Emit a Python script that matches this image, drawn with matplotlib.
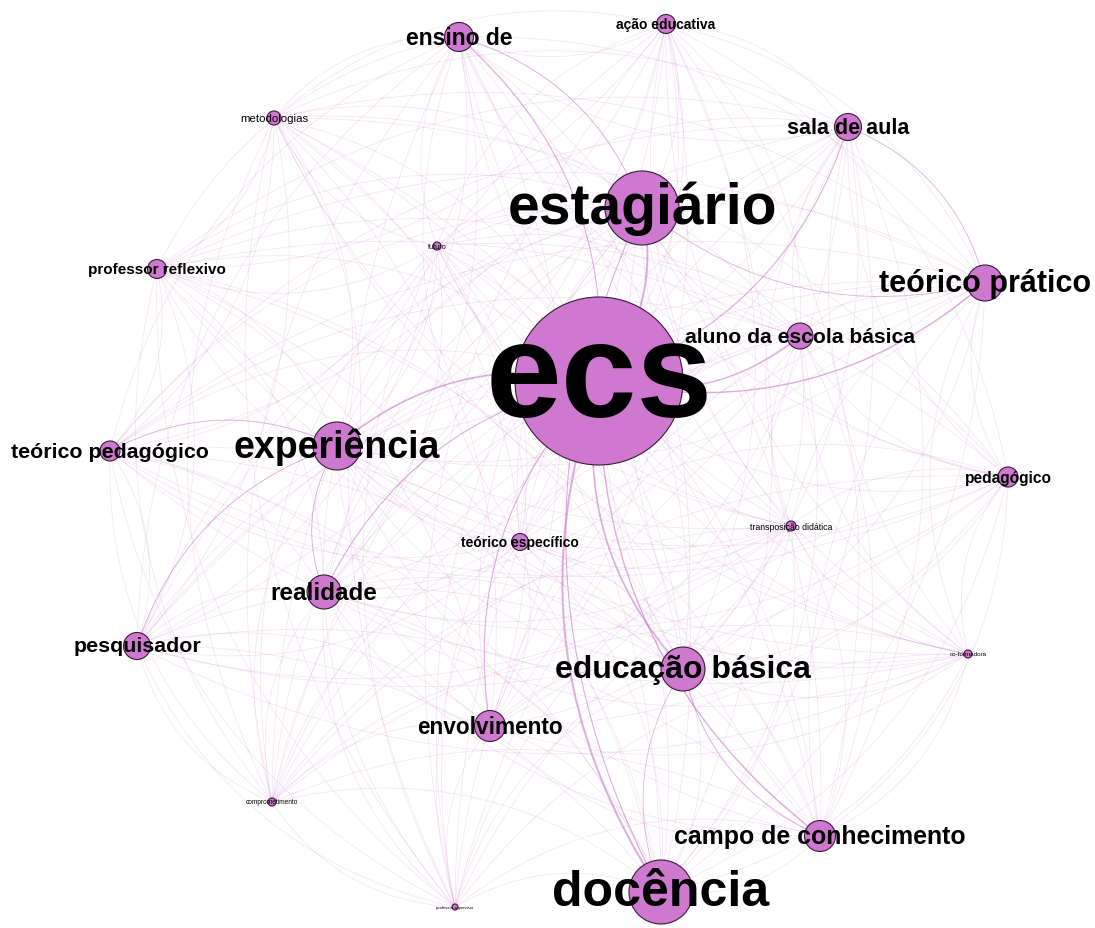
import numpy as np
import matplotlib
matplotlib.use("Agg")
import matplotlib.pyplot as plt
from matplotlib.path import Path
from matplotlib.patches import PathPatch, Circle

# nós da rede (posições do layout em pixels da imagem)
nodes = ["ecs", "estagiário", "docência", "experiência", "educação básica",
         "teórico prático", "realidade", "envolvimento", "campo de conhecimento",
         "ensino de", "sala de aula", "aluno da escola básica", "pesquisador",
         "teórico pedagógico", "pedagógico", "professor reflexivo",
         "teórico específico", "ação educativa", "metodologias", "futuro",
         "transposição didática", "co-formadora", "comprometimento",
         "professor supervisor"]
node_x = [599, 642, 661, 337, 683, 985, 324, 490, 820, 459, 848, 800, 137,
          110, 1008, 157, 520, 666, 274, 437, 791, 968, 272, 455]
node_y = [382, 209, 893, 447, 670, 284, 593, 727, 837, 38, 128, 337, 647,
          452, 478, 270, 543, 25, 119, 247, 527, 655, 803, 908]
node_r = [84, 37, 32, 24, 22, 18, 17, 15.5, 15.5, 14.5, 13.5, 13, 13.5,
          10, 10, 9.5, 8.5, 9.5, 7, 4, 5, 4, 4, 3]
label_pt = [98, 41, 36, 27, 23, 22, 17.5, 16.3, 17.9, 16.5, 15.5, 15.2, 15.4,
            15.4, 11.2, 11, 10, 10, 8.2, 5.3, 6.3, 4.5, 4.7, 3]

# arestas mais fortes (origem, destino, peso)
strong_edges = [
    ("ecs", "estagiário", 3), ("ecs", "docência", 3), ("ecs", "educação básica", 2.5),
    ("ecs", "experiência", 2.5), ("ecs", "teórico prático", 2),
    ("ecs", "campo de conhecimento", 2), ("ecs", "aluno da escola básica", 2),
    ("ecs", "realidade", 1.5), ("ecs", "envolvimento", 1.5), ("ecs", "ensino de", 1.5),
    ("ecs", "sala de aula", 1.5), ("estagiário", "docência", 1.5),
    ("estagiário", "ensino de", 1.2), ("experiência", "realidade", 1.2),
    ("experiência", "teórico pedagógico", 1.2), ("experiência", "pesquisador", 1.2),
    ("educação básica", "docência", 1.2), ("educação básica", "campo de conhecimento", 1.2),
    ("teórico prático", "sala de aula", 1), ("estagiário", "teórico prático", 1),
]

pos = {n: (x, y) for n, x, y in zip(nodes, node_x, node_y)}


def curved_edge(ax, a, b, lw, alpha, curv=0.25):
    x0, y0 = pos[a]
    x2, y2 = pos[b]
    mx, my = (x0 + x2) / 2, (y0 + y2) / 2
    dx, dy = x2 - x0, y2 - y0
    cx, cy = mx - dy * curv, my + dx * curv
    path = Path([(x0, y0), (cx, cy), (x2, y2)], [Path.MOVETO, Path.CURVE3, Path.CURVE3])
    ax.add_patch(PathPatch(path, fc="none", ec="#c86ec8", lw=lw, alpha=alpha, zorder=1))


fig = plt.figure(figsize=(10.95, 9.29), dpi=100)
ax = fig.add_axes([0, 0, 1, 1])
ax.set_xlim(0, 1095)
ax.set_ylim(929, 0)
ax.axis("off")

# ligações fracas entre todos os termos
for i in range(len(nodes)):
    for j in range(i + 1, len(nodes)):
        curved_edge(ax, nodes[i], nodes[j], 0.5, 0.2)

for a, b, w in strong_edges:
    curved_edge(ax, a, b, w * 0.5, 0.5)

for n, r in zip(nodes, node_r):
    ax.add_patch(Circle(pos[n], r, fc="#cf78cf", ec="#3a1a3a", lw=0.8, zorder=2))

for n, fs in zip(nodes, label_pt):
    ax.text(pos[n][0], pos[n][1], n, ha="center", va="center",
            fontsize=fs, fontweight="bold" if fs > 9 else "normal",
            family="Liberation Sans", color="black", zorder=3)

fig.savefig("out.png", dpi=100, facecolor="white")
